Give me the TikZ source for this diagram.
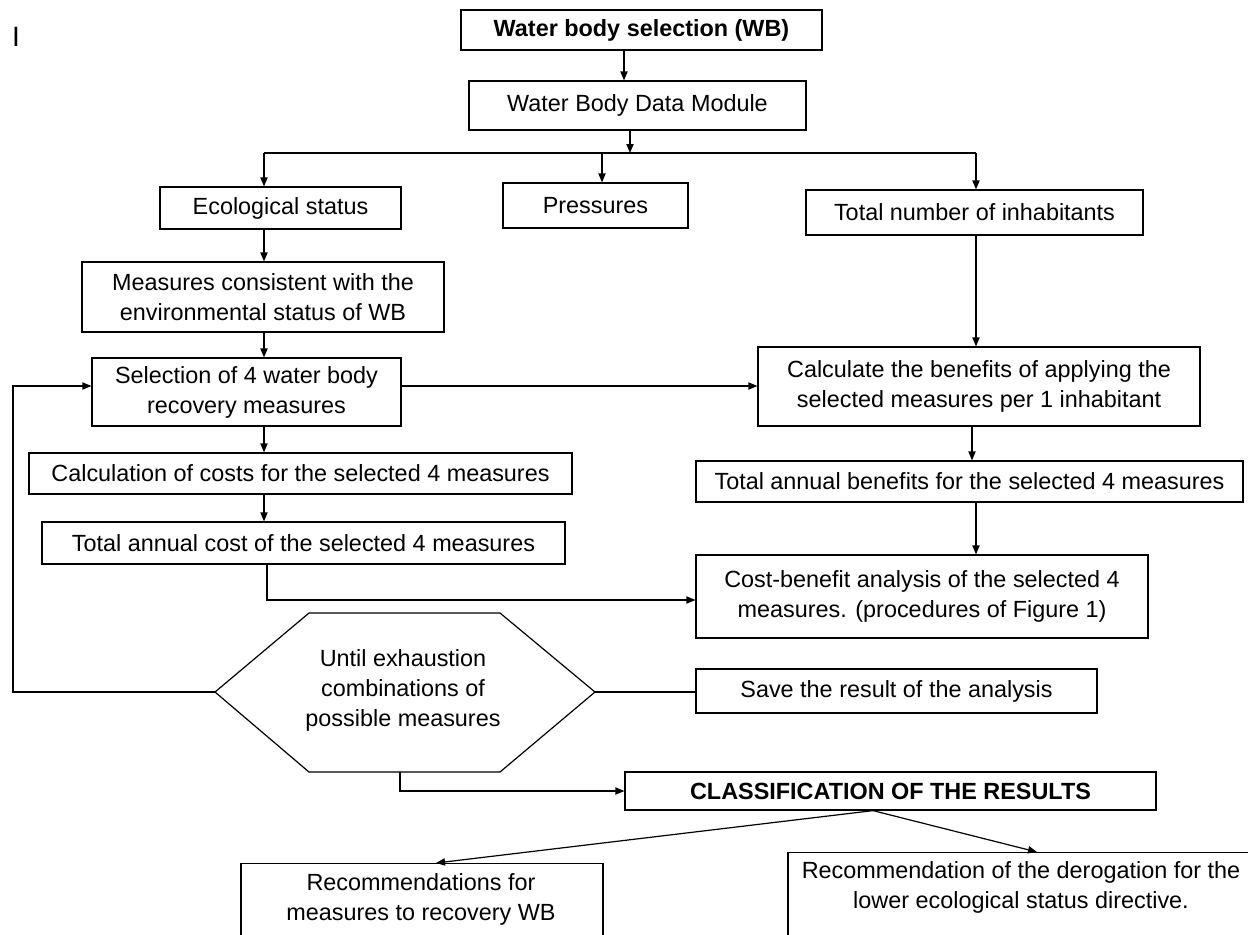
\documentclass[tikz,border=0pt]{standalone}
\usepackage{fontspec}
\setmainfont{Liberation Sans}
\usetikzlibrary{arrows.meta}
\begin{document}
\begin{tikzpicture}[x=0.5pt,y=-0.5pt,
  font=\fontsize{11.7}{15}\selectfont, line width=0.6pt,
  box/.style={draw, rectangle, inner sep=2pt, align=center},
  arr/.style={-{Triangle[length=4.5pt,width=3.6pt]}}]
\useasboundingbox (0,0) rectangle (1248,934);
\clip (0,0) rectangle (1248,934);
\fill[white] (0,0) rectangle (1248,934);

\node (stray) [font=\fontsize{14}{16}\selectfont] at (16,37) {I};

% boxes
\node[box, minimum width=180.5pt, minimum height=20pt, font=\fontsize{11.7}{15}\selectfont\bfseries] (wb) at (641.5,30) {Water body selection (WB)};
\node[box, minimum width=168.5pt, minimum height=24.5pt] (dm) at (637.5,105.5) {Water Body Data Module};
\node[box, minimum width=120.5pt, minimum height=21pt] (eco) at (280.5,208) {Ecological status};
\node[box, minimum width=92.5pt, minimum height=22.5pt] (pre) at (595.5,205.5) {Pressures};
\node[box, minimum width=168.5pt, minimum height=22.5pt] (tot) at (974.5,212.5) {Total number of inhabitants};
\node[box, minimum width=181pt, minimum height=35pt] (mc) at (263,297) {Measures consistent with the\\environmental status of WB};
\node[box, minimum width=154.5pt, minimum height=34pt] (sel) at (246.5,392) {Selection of 4 water body\\recovery measures};
\node[box, minimum width=221pt, minimum height=39.5pt] (cb) at (979,386.5) {Calculate the benefits of applying the\\selected measures per 1 inhabitant};
\node[box, minimum width=271.5pt, minimum height=20.5pt] (cc) at (300.5,473.5) {Calculation of costs for the selected 4 measures};
\node[box, minimum width=273.5pt, minimum height=20.5pt] (tab) at (969.5,481.5) {Total annual benefits for the selected 4 measures};
\node[box, minimum width=261.5pt, minimum height=21pt] (tac) at (303.5,543) {Total annual cost of the selected 4 measures};
\node[box, minimum width=226pt, minimum height=41.5pt] (cba) at (922,596.5) {Cost-benefit analysis of the selected 4\\measures. (procedures of Figure 1)};
\node[box, minimum width=200.5pt, minimum height=22pt] (save) at (896.5,691) {Save the result of the analysis};
\node[box, minimum width=265.5pt, minimum height=19pt, font=\fontsize{11.7}{15}\selectfont\bfseries] (cls) at (890.5,791) {CLASSIFICATION OF THE RESULTS};

% hexagon
\coordinate (hexL) at (215,692);
\coordinate (hexTL) at (309,613);
\coordinate (hexTR) at (500,613);
\coordinate (hexR) at (595,692);
\coordinate (hexBR) at (500,772);
\coordinate (hexBL) at (309,772);
\coordinate (hexB) at (400,772);
\draw (hexL) -- (hexTL) -- (hexTR) -- (hexR) -- (hexBR) -- (hexBL) -- cycle;
\node[align=center] (hex) at (403,690) {Until exhaustion\\combinations of\\possible measures};

% bottom boxes (cut off by the page edge)
\node[draw, minimum width=181pt, minimum height=60pt, anchor=north] (recA) at (422,863) {};
\node[align=center] (recAt) at (421,899) {Recommendations for\\measures to recovery WB};
\node[draw, minimum width=233pt, minimum height=60pt, anchor=north] (recB) at (1021,852) {};
\node[align=center] (recBt) at (1021,887.5) {Recommendation of the derogation for the\\lower ecological status directive.};

% connectors
\draw[arr] ([xshift=-8.75pt]wb.south) -- ([xshift=-8.75pt]wb.south |- dm.north);
\coordinate (j) at (630,153);
\coordinate (jl) at (264,153);
\coordinate (jp) at (602,153);
\coordinate (jr) at (976,153);
\draw[arr] (j |- dm.south) -- (j);
\draw (jl) -- (jr);
\draw[arr] (jl) -- (jl |- eco.north);
\draw[arr] (jp) -- (jp |- pre.north);
\draw[arr] (jr) -- (jr |- tot.north);

\draw[arr] (jl |- eco.south) -- (jl |- mc.north);
\draw[arr] (jl |- mc.south) -- (jl |- sel.north);
\draw[arr] (jl |- sel.south) -- (jl |- cc.north);
\draw[arr] (jl |- cc.south) -- (jl |- tac.north);

\draw[arr] (jr |- tot.south) -- (jr |- cb.north);
\draw[arr] ([xshift=-2pt]jr |- cb.south) -- ([xshift=-2pt]jr |- tab.north);
\draw[arr] (jr |- tab.south) -- (jr |- cba.north);

\draw[arr] ([yshift=3pt]sel.east) -- ([yshift=3pt]sel.east -| cb.west);
\coordinate (lp) at (13,692);
\draw[arr] (hexL) -- (lp) |- ([yshift=3pt]sel.west);

\coordinate (tc) at (267,564);
\draw[arr] (tc |- tac.south) |- ([yshift=-1.75pt]cba.west);

\draw (hexR) -- (hexR -| save.west);
\draw[arr] (hexB) |- (cls.west);

\coordinate (cs) at ([xshift=-8.75pt]cls.south);
\draw[arr] (cs) -- ([xshift=7pt]recA.north);
\draw[arr] (cs) -- ([xshift=8pt]recB.north);
\end{tikzpicture}
\end{document}
